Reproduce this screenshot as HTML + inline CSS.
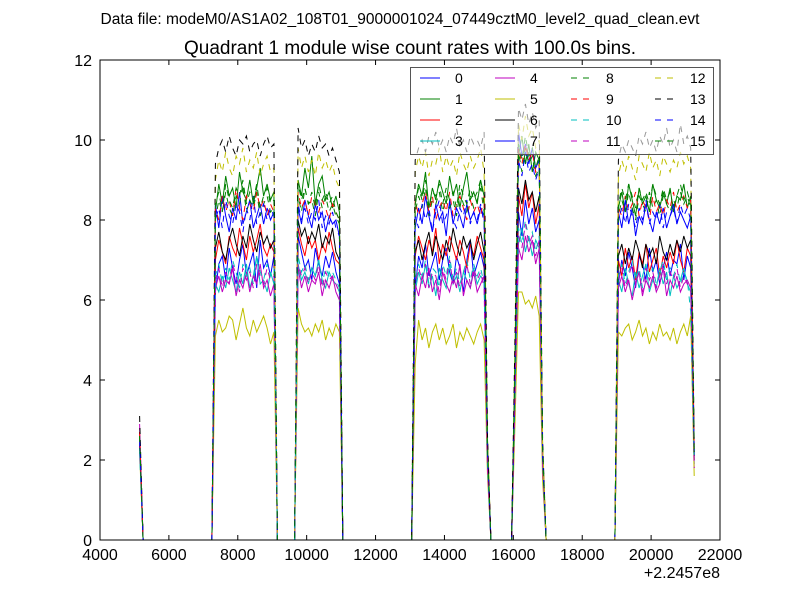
<!DOCTYPE html>
<html><head><meta charset="utf-8"><style>
body{margin:0;background:#fff;}
svg{display:block;font-family:"Liberation Sans",sans-serif;}
</style></head><body>
<svg id="chart" width="800" height="600">
<rect x="0" y="0" width="800" height="600" fill="#fff"/>
<text x="400" y="24" font-size="15.5" text-anchor="middle">Data file: modeM0/AS1A02_108T01_9000001024_07449cztM0_level2_quad_clean.evt</text>
<text x="410" y="54" font-size="19" text-anchor="middle">Quadrant 1 module wise count rates with 100.0s bins.</text>
<g id="plot"></g>
<g id="axes"></g>
<g id="legend"></g>
</svg>
<script>
const times=[5150,5250,7250,7350,7450,7550,7650,7750,7850,7950,8050,8150,8250,8350,8450,8550,8650,8750,8850,8950,9050,9150,9650,9750,9850,9950,10050,10150,10250,10350,10450,10550,10650,10750,10850,10950,11050,13050,13150,13250,13350,13450,13550,13650,13750,13850,13950,14050,14150,14250,14350,14450,14550,14650,14750,14850,14950,15050,15150,15250,15350,15950,16050,16150,16250,16350,16450,16550,16650,16750,16850,16950,18950,19050,19150,19250,19350,19450,19550,19650,19750,19850,19950,20050,20150,20250,20350,20450,20550,20650,20750,20850,20950,21050,21150,21250];
const s0=[2.4,0,0,6.2,6.9,7.1,6.5,7.3,6.8,6.4,7.0,7.4,6.6,6.9,7.2,6.3,7.5,6.8,7.0,6.6,7.1,0,0,7.6,7.2,6.8,7.0,6.5,7.3,6.9,6.6,7.1,6.8,7.2,6.7,6.4,0,0,6.3,7.1,6.8,7.4,6.6,6.9,7.2,6.5,7.0,7.3,6.7,6.4,7.1,6.8,6.2,7.0,7.5,6.6,6.9,7.2,6.8,2.1,0,0,3.8,8.2,7.6,8.5,7.9,8.3,7.7,8.0,2.0,0,0,6.4,7.0,6.6,7.2,6.8,6.3,7.1,6.9,6.5,7.3,6.7,7.0,6.4,6.8,7.2,6.6,7.0,6.9,7.4,6.5,7.1,6.8,2.2];
const s1=[2.6,0,0,8.2,8.9,8.4,9.1,8.6,8.8,8.3,9.2,8.7,8.5,9.0,8.4,8.8,9.3,8.6,8.9,8.5,8.7,0,0,9.0,8.6,9.3,8.8,9.6,8.4,8.9,9.1,8.5,8.7,8.3,8.6,8.2,0,0,8.4,8.9,8.6,9.2,8.3,8.8,8.5,9.0,8.7,8.4,9.1,8.6,8.9,8.3,8.8,9.2,8.5,8.7,8.4,9.0,8.6,2.5,0,0,4.5,9.6,10.1,9.4,9.9,9.2,9.7,9.5,2.3,0,0,8.3,8.7,8.2,8.9,8.5,8.1,8.8,8.4,8.6,8.2,8.9,8.5,8.3,8.7,8.4,8.8,8.2,8.6,8.5,8.9,8.3,8.6,2.0];
const s2=[2.7,0,0,7.0,7.5,7.2,6.9,7.6,7.3,7.1,7.8,7.4,7.0,7.6,7.2,7.5,7.9,7.3,7.1,7.4,7.2,0,0,7.8,7.4,7.1,7.6,7.3,7.5,7.0,7.4,7.2,7.7,7.3,7.0,6.9,0,0,7.1,7.6,7.3,7.0,7.5,7.2,7.8,6.9,7.4,7.1,7.6,7.3,7.0,7.5,7.2,6.8,7.4,7.1,7.6,7.3,7.0,2.3,0,0,4.0,8.6,8.1,8.9,8.3,8.7,7.9,8.4,2.1,0,0,7.0,6.6,7.3,6.8,7.1,6.5,7.2,6.9,7.4,6.7,7.0,7.3,6.6,7.1,6.8,7.2,6.9,7.5,7.0,6.7,7.3,7.1,2.0];
const s3=[2.3,0,0,6.4,6.2,6.6,6.3,6.8,6.5,6.2,6.7,6.4,6.9,6.3,6.6,7.1,6.4,6.5,6.2,6.7,6.4,0,0,6.9,6.5,6.7,6.4,6.8,6.6,7.0,6.5,6.3,6.7,6.5,6.4,6.2,0,0,6.2,6.7,6.4,6.9,6.3,6.6,6.1,6.8,6.5,6.3,6.9,6.4,6.6,6.2,6.7,6.5,6.3,6.8,6.4,6.6,6.5,1.9,0,0,3.6,7.4,7.8,7.2,7.6,7.1,7.5,7.3,1.8,0,0,6.5,6.2,6.8,6.4,6.1,6.7,6.3,6.6,6.9,6.2,6.5,6.3,6.8,6.4,6.7,6.1,6.6,6.3,6.5,6.8,6.4,6.2,1.9];
const s4=[2.8,0,0,6.3,6.6,6.2,6.5,6.4,6.8,6.1,6.5,6.3,6.7,6.2,6.6,6.4,6.9,6.3,6.5,6.1,6.4,0,0,6.8,6.3,6.6,6.2,6.5,6.4,6.7,6.1,6.5,6.3,6.6,6.2,6.0,0,0,6.4,6.1,6.6,6.3,6.8,6.2,6.5,6.0,6.7,6.4,6.2,6.6,6.3,6.9,6.1,6.5,6.3,6.7,6.2,6.4,6.6,1.8,0,0,3.5,7.3,7.0,7.6,7.2,7.5,6.9,7.3,1.9,0,0,6.3,6.6,6.2,6.5,6.0,6.4,6.7,6.1,6.5,6.3,6.6,6.2,6.4,6.8,6.1,6.5,6.3,6.6,6.2,6.4,6.5,6.3,1.8];
const s5=[2.2,0,0,5.1,5.5,5.2,5.3,5.6,5.5,5.0,5.4,5.8,5.3,5.1,5.5,5.2,5.4,5.6,5.3,4.9,5.2,0,0,5.8,5.4,5.2,5.3,5.1,5.4,5.2,5.5,5.0,5.3,5.1,5.4,5.2,0,0,4.4,5.5,5.0,5.3,4.8,5.2,5.4,5.0,5.3,4.9,5.1,5.4,4.8,5.2,5.0,5.3,5.1,4.9,5.2,5.4,5.0,1.6,0,0,3.0,6.2,6.2,5.9,6.0,5.8,6.1,5.6,1.5,0,0,5.2,5.1,5.3,5.4,5.0,5.2,5.5,5.1,5.3,4.9,5.2,5.0,5.4,5.1,5.2,5.0,5.3,4.9,5.2,5.4,5.1,5.6,1.6];
const s6=[2.5,0,0,7.3,7.7,7.2,7.0,7.5,7.8,7.4,7.1,7.6,7.3,7.9,7.5,7.2,7.7,7.4,7.6,7.3,7.5,0,0,8.0,7.6,7.8,7.4,7.7,7.5,7.9,7.3,7.6,7.4,7.8,7.2,7.0,0,0,7.2,7.5,7.0,7.4,7.7,7.1,7.6,7.3,7.0,7.5,7.2,7.8,7.4,7.1,7.6,7.3,7.5,7.0,7.4,7.7,7.2,2.2,0,0,4.2,8.8,8.4,9.0,8.5,8.7,8.2,8.6,2.2,0,0,7.1,7.4,6.9,7.3,7.0,7.5,7.2,6.8,7.4,7.1,7.3,6.9,7.6,7.2,7.0,7.4,7.1,7.5,7.2,7.6,7.3,7.5,2.1];
const s7=[2.4,0,0,8.4,7.8,8.6,8.1,7.7,8.3,8.0,8.7,7.9,8.2,8.5,7.8,8.1,8.4,7.9,8.3,8.0,8.2,0,0,8.3,7.9,8.5,8.1,7.8,8.4,8.0,8.2,7.7,8.1,7.9,8.0,7.6,0,0,7.8,8.3,7.9,8.6,8.1,7.7,8.4,8.0,8.2,7.6,8.5,7.9,8.3,8.1,7.8,8.4,8.0,8.2,7.9,8.3,8.1,2.0,0,0,4.3,10.2,9.6,9.9,9.4,9.8,9.3,9.5,2.1,0,0,8.2,7.8,8.5,7.9,8.3,7.6,8.1,7.9,8.4,8.0,7.7,8.2,7.9,8.3,7.8,8.1,8.4,7.9,8.2,8.0,7.8,8.1,2.1];
const s8=[2.6,0,0,8.0,8.5,8.2,8.7,8.3,8.1,8.6,8.4,8.9,8.2,8.5,8.3,8.7,8.1,8.4,8.6,8.2,8.3,0,0,8.6,8.2,8.8,8.4,8.5,8.1,8.7,8.3,8.6,8.2,8.4,8.1,7.9,0,0,8.2,8.6,8.3,8.8,8.1,8.5,8.4,8.7,8.2,8.6,8.3,8.5,8.1,8.7,8.4,8.2,8.6,8.3,8.5,8.8,8.2,2.3,0,0,4.4,9.7,9.2,9.8,9.4,9.6,9.1,9.3,2.2,0,0,8.1,8.5,8.2,8.7,8.3,8.0,8.6,8.4,8.2,8.7,8.3,8.5,8.1,8.6,8.4,8.2,8.5,8.3,8.7,8.4,8.6,8.3,2.2];
const s9=[2.7,0,0,8.3,8.0,8.6,8.2,8.5,8.1,8.8,8.3,8.0,8.6,8.4,8.2,8.7,8.3,8.5,8.1,8.4,8.2,0,0,8.7,8.3,8.5,8.1,8.6,8.4,8.2,8.5,8.3,8.0,8.4,8.2,8.0,0,0,8.5,8.1,8.4,8.7,8.2,8.6,8.0,8.3,8.5,8.2,8.7,8.1,8.4,8.6,8.3,8.0,8.5,8.2,8.4,8.1,8.6,2.4,0,0,4.6,9.8,9.4,9.9,9.5,9.7,9.2,9.4,2.3,0,0,8.3,8.1,8.6,8.2,8.4,8.7,8.1,8.5,8.3,8.0,8.6,8.2,8.4,8.1,8.5,8.3,8.7,8.2,8.4,8.6,8.3,8.5,2.3];
const s10=[2.2,0,0,6.6,6.9,6.4,6.8,6.5,7.0,6.7,6.3,6.9,6.6,6.8,6.4,7.1,6.7,6.5,6.9,6.6,6.8,0,0,7.1,6.7,6.9,6.5,6.8,6.6,7.0,6.4,6.8,6.6,6.7,6.5,6.3,0,0,6.5,6.9,6.6,7.0,6.4,6.8,6.7,6.3,6.9,6.6,7.1,6.5,6.8,6.4,6.7,7.0,6.5,6.9,6.6,6.8,6.4,1.9,0,0,3.7,7.8,7.4,8.0,7.5,7.7,7.2,7.6,1.9,0,0,6.6,6.9,6.4,6.7,7.0,6.5,6.8,6.3,6.9,6.6,6.8,6.4,6.7,7.0,6.5,6.8,6.6,6.9,6.4,6.7,6.5,5.7,1.9];
const s11=[2.9,0,0,6.5,6.8,6.3,6.7,6.4,6.9,6.6,6.2,6.8,6.5,6.7,6.3,6.9,6.6,6.4,6.8,6.5,6.6,0,0,6.9,6.6,6.8,6.4,6.7,6.5,6.9,6.3,6.7,6.5,6.6,6.4,6.2,0,0,6.4,6.8,6.5,6.9,6.3,6.7,6.6,6.2,6.8,6.5,7.0,6.4,6.7,6.3,6.6,6.9,6.4,6.8,6.5,6.7,6.3,1.8,0,0,3.6,7.6,7.3,7.9,7.4,7.6,7.1,7.5,1.8,0,0,6.5,6.8,6.3,6.6,6.9,6.4,6.7,6.2,6.8,6.5,6.7,6.3,6.6,6.9,6.4,6.7,6.5,6.8,6.3,6.6,6.4,6.6,1.8];
const s12=[2.5,0,0,9.0,9.5,9.2,9.7,9.3,9.1,9.6,9.4,9.8,9.2,9.5,9.3,9.7,9.1,9.4,9.6,9.2,9.3,0,0,9.8,9.3,9.6,9.2,9.5,9.1,9.7,9.3,9.5,9.2,9.4,9.0,8.8,0,0,9.2,9.6,9.3,9.7,9.1,9.5,9.4,9.8,9.2,9.6,9.3,9.5,9.1,9.7,9.4,9.2,9.6,9.3,9.5,9.8,9.2,2.5,0,0,5.0,10.4,10.0,10.6,10.1,10.3,9.8,10.0,2.4,0,0,9.1,9.5,9.2,9.6,9.3,9.0,9.6,9.4,9.2,9.7,9.3,9.5,9.1,9.6,9.4,9.2,9.5,9.3,9.7,9.4,9.6,9.3,2.3];
const s13=[3.1,0,0,9.4,9.8,10.0,9.7,10.1,9.8,9.6,10.0,9.9,10.1,9.7,9.9,10.0,9.6,9.9,10.1,9.8,9.9,0,0,10.3,9.8,10.0,9.6,9.9,9.7,10.1,9.8,9.9,9.6,9.8,9.5,9.2,0,0,9.5,9.8,10.0,9.7,10.1,9.9,10.2,9.8,10.0,9.7,10.1,9.9,10.3,9.8,10.0,9.7,10.1,9.9,10.0,9.8,10.2,2.6,0,0,5.3,10.8,10.5,10.9,10.4,10.7,10.3,10.5,2.5,0,0,9.5,9.9,9.7,10.0,9.8,9.6,10.1,9.9,10.2,9.8,10.0,9.7,10.1,9.9,10.3,9.8,10.0,9.7,10.4,9.9,10.1,9.8,2.4];
const s14=[2.5,0,0,8.0,8.3,7.8,8.5,8.1,7.9,8.4,8.2,7.7,8.3,8.0,8.6,7.9,8.2,8.4,8.0,8.3,8.1,0,0,8.4,8.0,8.3,7.9,8.2,8.0,8.5,7.8,8.1,7.9,8.2,7.8,7.6,0,0,8.1,7.8,8.4,8.0,8.3,7.7,8.2,8.5,7.9,8.1,8.4,8.0,7.8,8.3,8.1,8.5,7.9,8.2,8.0,8.4,7.9,2.2,0,0,4.3,9.5,9.1,9.7,9.2,9.4,9.0,9.3,2.1,0,0,8.0,8.3,7.9,8.4,8.1,7.8,8.3,8.0,8.5,7.9,8.2,8.0,8.4,7.8,8.2,8.1,8.3,7.9,8.4,8.1,8.3,8.0,2.2];
const s15=[2.6,0,0,8.4,8.7,8.2,8.9,8.5,8.3,8.8,8.6,9.0,8.4,8.7,8.5,8.9,8.3,8.6,8.8,8.4,8.5,0,0,8.9,8.5,8.8,8.4,8.7,8.3,8.9,8.5,8.7,8.4,8.6,8.2,8.0,0,0,8.4,8.8,8.5,9.0,8.3,8.7,8.6,8.9,8.4,8.8,8.5,8.7,8.3,8.9,8.6,8.4,8.8,8.5,8.7,9.0,8.4,2.3,0,0,4.6,9.9,9.5,10.1,9.6,9.8,9.3,9.6,2.3,0,0,8.4,8.8,8.5,8.9,8.6,8.3,8.8,8.5,8.7,8.4,8.9,8.6,8.4,8.8,8.5,8.7,8.3,8.6,8.9,8.5,8.7,8.4,2.2];
const seriesLabels=["0","1","2","3","4","5","6","7","8","9","10","11","12","13","14","15"];
const xTicks=[4000,6000,8000,10000,12000,14000,16000,18000,20000,22000];
const yTicks=[0,2,4,6,8,10,12];

const allSeries=[s0,s1,s2,s3,s4,s5,s6,s7,s8,s9,s10,s11,s12,s13,s14,s15];
const colors=["#0000ff","#008000","#ff0000","#00bfbf","#bf00bf","#bfbf00","#000000","#0000ff","#008000","#ff0000","#00bfbf","#bf00bf","#bfbf00","#000000","#0000ff","#008000"];
const L=100,R=720,T=60,B=540,XMIN=4000,XMAX=22000,YMIN=0,YMAX=12;
const xs=v=>L+(v-XMIN)/(XMAX-XMIN)*(R-L);
const ys=v=>B-(v-YMIN)/(YMAX-YMIN)*(B-T);
const NS="http://www.w3.org/2000/svg";
function mk(tag,attrs,parent){const e=document.createElementNS(NS,tag);for(const k in attrs)e.setAttribute(k,attrs[k]);parent.appendChild(e);return e;}
const plot=document.getElementById('plot');
const defs=mk('defs',{},document.getElementById('chart'));
const cp=mk('clipPath',{id:'clip'},defs);
mk('rect',{x:L,y:T,width:R-L,height:B-T},cp);
plot.setAttribute('clip-path','url(#clip)');
allSeries.forEach((s,i)=>{
  const d=s.map((v,j)=>(j?'L':'M')+xs(times[j]).toFixed(1)+','+ys(v).toFixed(1)).join('');
  const p=mk('path',{d:d,fill:'none',stroke:colors[i],'stroke-width':1},plot);
  if(i>=8)p.setAttribute('stroke-dasharray','6,6');
  
  
});
const axes=document.getElementById('axes');
const frame=mk('rect',{x:L,y:T,width:R-L,height:B-T,fill:'none',stroke:'#000','stroke-width':1},axes);


xTicks.forEach(t=>{
  const x=xs(t);
  mk('line',{x1:x,y1:B,x2:x,y2:B-5,stroke:'#000'},axes);
  mk('line',{x1:x,y1:T,x2:x,y2:T+5,stroke:'#000'},axes);
  const tx=mk('text',{x:x,y:B+20,'font-size':16,'text-anchor':'middle'},axes);
  tx.textContent=t;
  
  
});
yTicks.forEach(t=>{
  const y=ys(t);
  mk('line',{x1:L,y1:y,x2:L+5,y2:y,stroke:'#000'},axes);
  mk('line',{x1:R,y1:y,x2:R-5,y2:y,stroke:'#000'},axes);
  const tx=mk('text',{x:L-8,y:y+6,'font-size':16,'text-anchor':'end'},axes);
  tx.textContent=t;
  
  
});
const off=mk('text',{x:R,y:578,'font-size':16,'text-anchor':'end'},axes);
off.textContent='+2.2457e8';


const lg=document.getElementById('legend');
const box=mk('rect',{x:410.5,y:67.5,width:303,height:87,fill:'#fff','fill-opacity':0.6,stroke:'#555','stroke-width':1},lg);


const colX=[420,495,571,655];
seriesLabels.forEach((lab,i)=>{
  const c=Math.floor(i/4),r=i%4,x=colX[c],y=78+r*21;
  const g=mk('g',{},lg);
  
  
  const ln=mk('line',{x1:x,y1:y,x2:x+20,y2:y,stroke:colors[i],'stroke-width':1},g);
  if(i>=8)ln.setAttribute('stroke-dasharray','6,6');
  const tx=mk('text',{x:x+35,y:y+5,'font-size':14},g);
  tx.textContent=lab;
});
</script>
</body></html>
